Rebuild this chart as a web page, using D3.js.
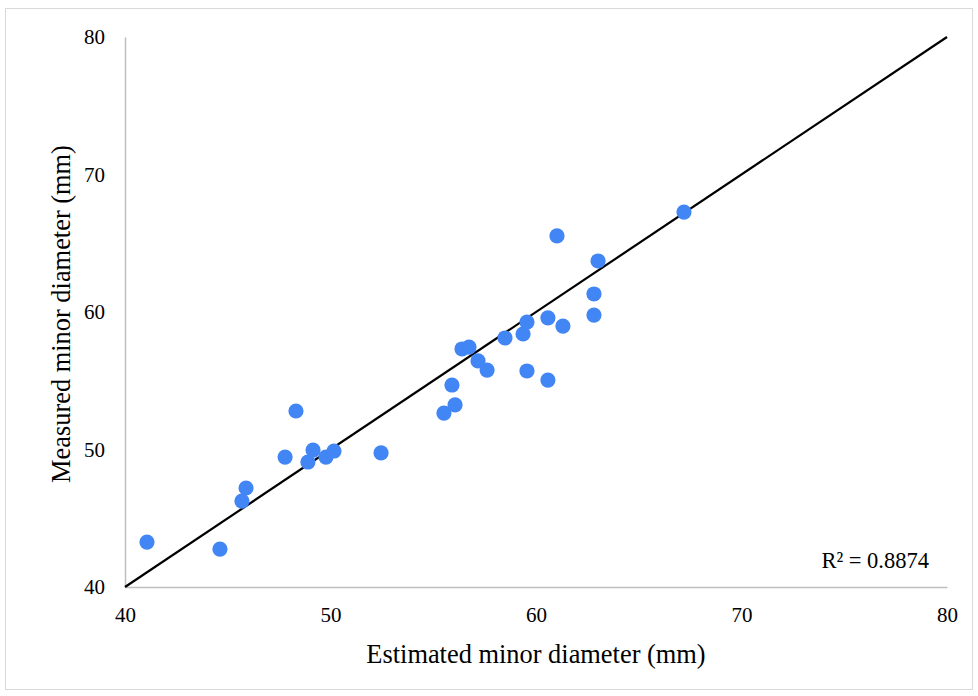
<!DOCTYPE html>
<html><head><meta charset="utf-8">
<script src="https://cdn.jsdelivr.net/npm/d3@7"></script>
<style>body{margin:0;background:#fff}svg{display:block}</style>
</head><body>
<script>
const estimated = [41.07,44.62,45.69,45.89,47.79,48.32,48.9,49.15,49.78,50.17,52.46,55.52,55.91,56.06,56.4,56.74,57.18,57.62,58.49,59.37,59.56,59.56,60.58,60.58,61.02,61.31,62.82,62.82,63.02,67.2];
const measured  = [43.27,42.76,46.25,47.2,49.45,52.8,49.09,49.96,49.45,49.89,49.75,52.65,54.69,53.24,57.31,57.45,56.44,55.78,58.11,58.4,59.27,55.71,59.58,55.05,65.53,58.98,59.78,61.31,63.71,67.27];
const xTicks = [40,50,60,70,80];
const yTicks = [40,50,60,70,80];
const rSquared = "R² = 0.8874";
const xTitle = "Estimated minor diameter (mm)";
const yTitle = "Measured minor diameter (mm)";

const W = 978, H = 696;
const svg = d3.select("body").append("svg").attr("width", W).attr("height", H);
const font = "'Liberation Serif','Times New Roman',serif";
svg.append("rect").attr("x",5.5).attr("y",8.5).attr("width",967).attr("height",681)
  .attr("fill","#fff").attr("stroke","#d9d9d9").attr("stroke-width",1);

const x = d3.scaleLinear().domain([40,80]).range([125,947]);
const y = d3.scaleLinear().domain([40,80]).range([587,37]);

const xa = svg.append("g").attr("transform",`translate(0,${y(40)})`)
  .call(d3.axisBottom(x).tickValues(xTicks).tickSize(0).tickPadding(20));
const ya = svg.append("g").attr("transform",`translate(${x(40)},0)`)
  .call(d3.axisLeft(y).tickValues(yTicks).tickSize(0).tickPadding(20));
[xa,ya].forEach(a=>{
  a.select(".domain").attr("stroke","#bfbfbf").attr("stroke-width",1.5);
  a.selectAll("text").attr("font-family",font).attr("font-size",21).attr("fill","#000");
});

svg.append("line").attr("x1",x(40)).attr("y1",y(40)).attr("x2",x(80)).attr("y2",y(80))
  .attr("stroke","#000").attr("stroke-width",2.2);

const pts = estimated.map((e,i)=>({e, m: measured[i]}));
svg.append("g").selectAll("circle").data(pts).join("circle")
  .attr("cx",d=>x(d.e)).attr("cy",d=>y(d.m)).attr("r",7.6).attr("fill","#4285F4");

svg.append("text").attr("x",929).attr("y",568).attr("text-anchor","end")
  .attr("font-family",font).attr("font-size",22.5).text(rSquared);

svg.append("text").attr("x",536).attr("y",663).attr("text-anchor","middle")
  .attr("font-family",font).attr("font-size",26.4).text(xTitle);
svg.append("text").attr("transform",`translate(70,314) rotate(-90)`)
  .attr("text-anchor","middle").attr("font-family",font).attr("font-size",26.4).text(yTitle);
</script>
</body></html>
